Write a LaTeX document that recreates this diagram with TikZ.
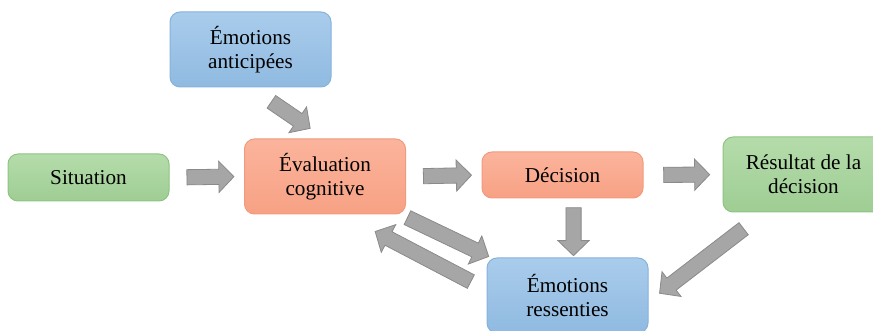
\documentclass[tikz,border=0pt]{standalone}
\usepackage{fontspec}
\setmainfont{Liberation Serif}
\usetikzlibrary{shapes.arrows, calc}

\definecolor{greentop}{HTML}{B4DCAB}
\definecolor{greenbot}{HTML}{9FCD93}
\definecolor{greenline}{HTML}{8FC383}
\definecolor{orangetop}{HTML}{FBB49C}
\definecolor{orangebot}{HTML}{F7A184}
\definecolor{orangeline}{HTML}{F19A7E}
\definecolor{bluetop}{HTML}{A9CCEB}
\definecolor{bluebot}{HTML}{90BAE1}
\definecolor{blueline}{HTML}{86B2DC}
\definecolor{arrowfill}{HTML}{A6A6A6}
\definecolor{arrowline}{HTML}{8A8A8A}

\tikzset{
    box/.style={rounded corners=5pt, minimum width=80.5pt, align=center,
        inner sep=2pt, line width=0.5pt, font=\fontsize{10.6}{11.8}\selectfont},
    greenbox/.style={box, draw=greenline, top color=greentop, bottom color=greenbot},
    orangebox/.style={box, draw=orangeline, top color=orangetop, bottom color=orangebot},
    bluebox/.style={box, draw=blueline, top color=bluetop, bottom color=bluebot},
    blockarrow/.style={single arrow, draw=arrowline, fill=arrowfill, line width=0.4pt,
        inner xsep=0pt, inner ysep=3.6pt, minimum width=0pt,
        single arrow head extend=4pt, single arrow tip angle=92,
        minimum height=#1, midway, sloped, allow upside down}
}

\begin{document}
\begin{tikzpicture}[x=0.5pt, y=-0.5pt]
    \clip (0,0) rectangle (873,331);

    %Boxes
    \node[bluebox, minimum height=37.5pt] (antic) at (250.5,49.5) {Émotions\\anticipées};
    \node[greenbox, minimum height=23.5pt] (sit) at (88.5,177.5) {Situation};
    \node[orangebox, minimum height=37.5pt] (eval) at (325,176.5) {Évaluation\\cognitive};
    \node[orangebox, minimum height=23pt] (dec) at (562.5,175) {Décision};
    \node[greenbox, minimum height=37.5pt] (res) at (803.5,174.5) {Résultat de la\\décision};
    \node[bluebox, minimum height=37.5pt] (ress) at (567.5,295.5) {Émotions\\ressenties};

    %Arrows
    \path (sit.east) -- (eval.west) node[blockarrow=23.5pt] {};
    \path (antic.south) -- (eval.north) node[blockarrow=23.5pt] {};
    \path (eval.east) -- (dec.west) node[blockarrow=24pt] {};
    \path (dec.east) -- (res.west) node[blockarrow=23pt] {};
    \path ($(dec.south)+(11,0)$) -- ($(ress.north)+(6,0)$) node[blockarrow=24pt] {};
    \path ($(res.south west)+(24,14)$) -- ($(ress.east)+(14,-4.5)$) node[blockarrow=53pt] {};
    \path ($(eval.south east)+(-1,2)$) -- ($(ress.north west)+(-2,-3)$) node[blockarrow=45pt] {};
    \path ($(ress.west)+(-13,-12.5)$) -- ($(eval.south east)+(-27,19)$) node[blockarrow=54pt] {};
\end{tikzpicture}
\end{document}
